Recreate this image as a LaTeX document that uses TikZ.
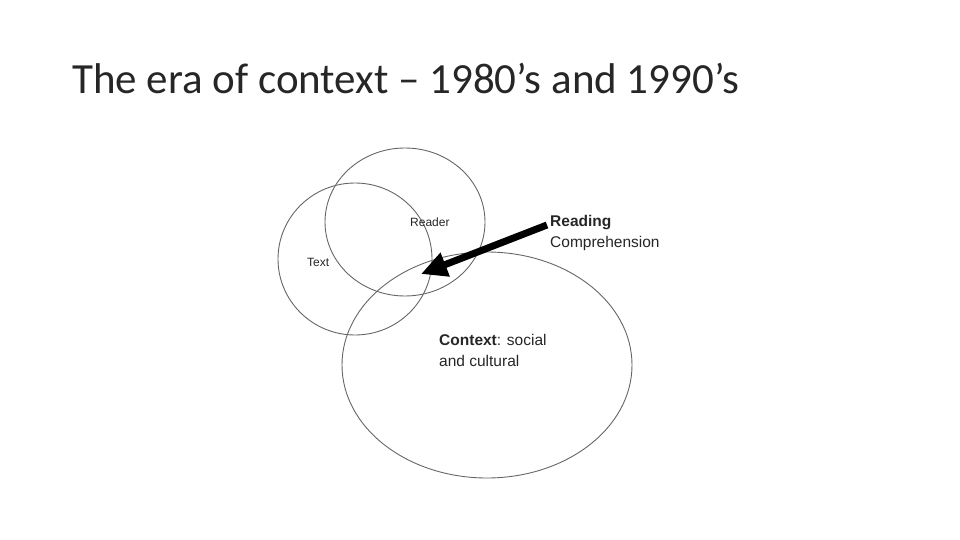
\documentclass[tikz,border=0pt]{standalone}
\usepackage{fontspec}
\setmainfont{Liberation Sans}
\newfontfamily\titlefont{Carlito}
\usetikzlibrary{arrows.meta}
\begin{document}
\begin{tikzpicture}[x=1pt,y=-1pt,
  circ/.style={draw=black!60,line width=0.9pt},
  lbl/.style={font=\fontsize{15.5}{21}\selectfont,anchor=west,inner sep=0pt,text=black!85}]
\useasboundingbox (0,0) rectangle (960,540);
\node[anchor=base west,inner sep=0pt,text=black!85,font=\titlefont\fontsize{43}{48}\selectfont] (title) at (72,94) {The era of context – 1980’s and 1990’s};
\draw[circ] (405,222) ellipse [x radius=80,y radius=74];
\draw[circ] (355,259) ellipse [x radius=77,y radius=76];
\draw[circ] (487,365) ellipse [x radius=145,y radius=113];
\node[lbl,font=\fontsize{12}{14}\selectfont] (reader) at (410,222) {Reader};
\node[lbl,font=\fontsize{12}{14}\selectfont] (text) at (307,262) {Text};
\node[lbl,align=left] (rc) at (550,233) {\textbf{Reading}\\Comprehension};
\node[lbl,align=left] (ctx) at (439,350) {\textbf{Context}: social\\and cultural};
\coordinate (tip) at (421,274);
\draw[line width=7pt,-{Triangle[length=26pt,width=24pt]}] (547,225) -- (tip);
\end{tikzpicture}
\end{document}
